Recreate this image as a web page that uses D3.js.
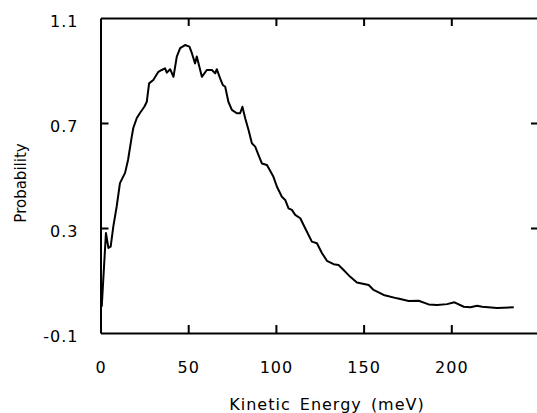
<!DOCTYPE html>
<html>
<head>
<meta charset="utf-8">
<script src="https://cdn.jsdelivr.net/npm/d3@7"></script>
<style>
  body { margin: 0; background: #fff; }
  text { font-family: "DejaVu Sans", Verdana, sans-serif; fill: #000; }
</style>
</head>
<body>
<script>
// kinetic energy (meV) and probability
const energy = [0.7, 3.1, 4.5, 5.8, 7.3, 9.2, 11.1, 14.0, 15.7, 17.8, 18.7, 20.7, 22.5, 25.0, 26.4, 27.7,
  30.1, 33.0, 34.9, 36.8, 37.8, 39.7, 41.6, 43.5, 45.4, 48.2, 50.7, 52.1, 53.9, 54.9, 57.8, 60.6,
  63.5, 65.4, 66.3, 68.2, 69.7, 71.1, 72.9, 74.9, 77.7, 79.6, 80.9, 82.5, 84.4, 86.3, 88.2, 90.1,
  92.0, 94.9, 98.6, 100.6, 103.4, 105.3, 107.2, 109.1, 111.0, 113.9, 116.7, 120.5, 123.4, 126.3,
  129.1, 132.9, 135.7, 138.6, 142.4, 146.2, 152.9, 155.7, 161.4, 169.1, 175.7, 181.4, 187.1, 191.9,
  197.6, 201.8, 207.1, 210.9, 214.7, 217.6, 226.1, 235.6];
const probability = [0.00, 0.281, 0.224, 0.229, 0.305, 0.381, 0.471, 0.510, 0.559, 0.647, 0.681, 0.719, 0.738, 0.762, 0.781, 0.851,
  0.864, 0.895, 0.902, 0.908, 0.892, 0.905, 0.876, 0.953, 0.985, 0.997, 0.991, 0.966, 0.927, 0.953, 0.876, 0.902,
  0.902, 0.889, 0.905, 0.870, 0.845, 0.838, 0.781, 0.750, 0.737, 0.737, 0.762, 0.718, 0.673, 0.623, 0.610, 0.578,
  0.546, 0.540, 0.495, 0.457, 0.419, 0.407, 0.375, 0.369, 0.350, 0.337, 0.299, 0.248, 0.242, 0.204,
  0.175, 0.162, 0.159, 0.140, 0.114, 0.092, 0.083, 0.064, 0.045, 0.032, 0.022, 0.023, 0.009, 0.007,
  0.010, 0.017, 0.000, -0.002, 0.004, 0.000, -0.005, -0.002];
const xTicks = [0, 50, 100, 150, 200];
const yTicks = [-0.1, 0.3, 0.7, 1.1];
const yLabels = ["-0.1", "0.3", "0.7", "1.1"];

const data = energy.map((e, i) => ({ e: e, p: probability[i] }));

const width = 537, height = 413;
const svg = d3.select("body").append("svg")
  .attr("width", width)
  .attr("height", height);

const x = d3.scaleLinear().domain([0, 250]).range([100.5, 539]);
const y = d3.scaleLinear().domain([-0.1, 1.1]).range([333, 18]);

function styleAxis(g) {
  g.select(".domain").attr("stroke", "#000").attr("stroke-width", 2);
  g.selectAll(".tick line").attr("stroke", "#000").attr("stroke-width", 2);
  g.selectAll("text").attr("font-size", 16).attr("letter-spacing", "1px");
}

// bottom axis with labels, ticks pointing inward
svg.append("g")
  .attr("transform", "translate(0," + y(-0.1) + ")")
  .call(d3.axisBottom(x).tickValues(xTicks).tickSize(-8).tickSizeOuter(0).tickPadding(29).tickFormat(d3.format("d")))
  .call(styleAxis)
  .call(g => g.select(".tick line").remove());

// left axis with labels
svg.append("g")
  .attr("transform", "translate(" + x(0) + ",0)")
  .call(d3.axisLeft(y).tickValues(yTicks).tickSize(-8).tickSizeOuter(0).tickPadding(22)
    .tickFormat((d, i) => yLabels[i]))
  .call(styleAxis)
  .call(g => g.selectAll("text").attr("dy", "0.5em"))
  .call(g => g.selectAll(".tick line").filter(d => d === -0.1 || d === 1.1).remove());

// top and right frame, ticks only
svg.append("g")
  .attr("transform", "translate(0," + y(1.1) + ")")
  .call(d3.axisTop(x).tickValues([50, 100, 150, 200]).tickSize(-8).tickSizeOuter(0).tickFormat(""))
  .call(styleAxis);

svg.append("g")
  .attr("transform", "translate(" + x(250) + ",0)")
  .call(d3.axisRight(y).tickValues([0.3, 0.7]).tickSize(-8).tickSizeOuter(0).tickFormat(""))
  .call(styleAxis);

// curve
const line = d3.line().x(d => x(d.e)).y(d => y(d.p));
svg.append("path")
  .datum(data)
  .attr("d", line)
  .attr("fill", "none")
  .attr("stroke", "#000")
  .attr("stroke-width", 2)
  .attr("stroke-linejoin", "round");

// axis titles
svg.append("text")
  .attr("x", 327)
  .attr("y", 410)
  .attr("text-anchor", "middle")
  .attr("font-size", 16)
  .attr("letter-spacing", "1px")
  .attr("word-spacing", "3px")
  .text("Kinetic Energy (meV)");

svg.append("text")
  .attr("transform", "translate(26,183) rotate(-90)")
  .attr("text-anchor", "middle")
  .attr("font-size", 15)
  .text("Probability");
</script>
</body>
</html>
